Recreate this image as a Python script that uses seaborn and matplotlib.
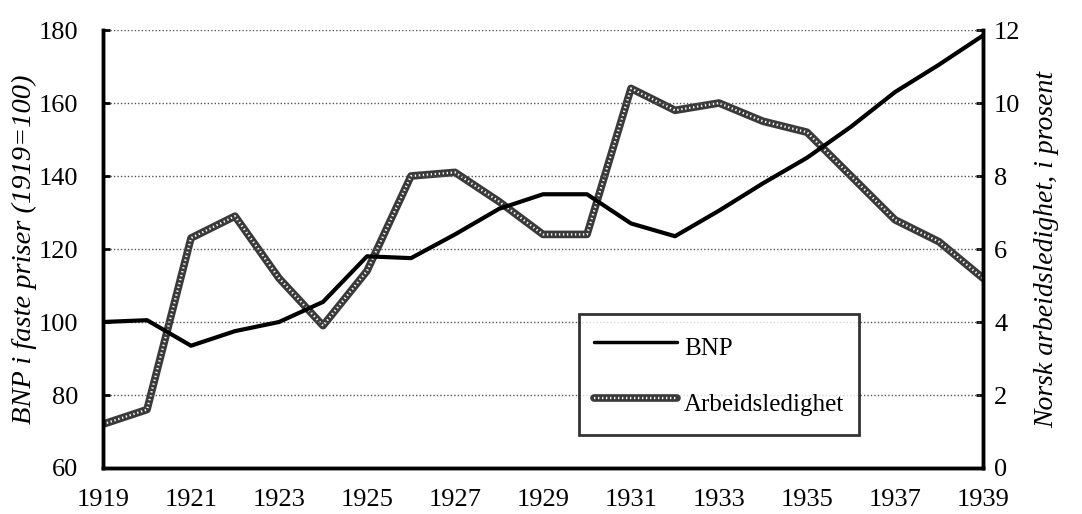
import matplotlib
matplotlib.use("Agg")
import matplotlib.pyplot as plt
import pandas as pd
import seaborn as sns

years = list(range(1919, 1940))
bnp = [100, 100.5, 93.5, 97.5, 100, 105.5, 118, 117.5, 124, 131, 135,
       135, 127, 123.5, 130.5, 138, 145, 153.5, 163, 170.5, 178.5]
arbeidsledighet = [1.2, 1.6, 6.3, 6.9, 5.2, 3.9, 5.4, 8.0, 8.1, 7.3, 6.4,
                   6.4, 10.4, 9.8, 10.0, 9.5, 9.2, 8.0, 6.8, 6.2, 5.2]
xticks = list(range(1919, 1940, 2))

df = pd.DataFrame({"year": years, "BNP": bnp, "Arbeidsledighet": arbeidsledighet})

sns.set_style("white")
plt.rcParams["font.family"] = ["Liberation Serif", "DejaVu Serif"]
for k in ("text.color", "axes.labelcolor", "xtick.color", "ytick.color"):
    plt.rcParams[k] = "black"

fig = plt.figure(figsize=(10.82, 5.14), dpi=100)
ax = fig.add_axes([0.0952, 0.0895, 0.8133, 0.8521])
ax2 = ax.twinx()

# grid on the left scale
for v in range(80, 181, 20):
    ax.axhline(v, color="#555555", lw=1.0, ls=(0, (1, 1.5)), zorder=0)

sns.lineplot(data=df, x="year", y="BNP", ax=ax, color="black", lw=3, zorder=3)
# hatched grey line: thick dark base + white dots on top
sns.lineplot(data=df, x="year", y="Arbeidsledighet", ax=ax2, color="#3a3a3a", lw=5.5, zorder=2)
sns.lineplot(data=df, x="year", y="Arbeidsledighet", ax=ax2, color="white", lw=1.6,
             ls=(0, (0.6, 1.2)), zorder=3)

ax.set_xlim(1919, 1939)
ax.set_ylim(60, 180)
ax2.set_ylim(0, 12)
ax.set_xticks(range(1919, 1940))
ax.set_xticklabels([str(y) if y in xticks else "" for y in range(1919, 1940)])
ax.set_yticks(range(60, 181, 20))
ax2.set_yticks(range(0, 13, 2))

for a in (ax, ax2):
    a.spines["top"].set_visible(False)
    for s in ("left", "right", "bottom"):
        a.spines[s].set_linewidth(2.5)
        a.spines[s].set_color("black")
    a.tick_params(direction="in", length=5, width=2, labelsize=19, pad=8)
ax.tick_params(axis="x", pad=15)
ax.tick_params(axis="y", pad=18)

ax.set_xlabel("")
ax.set_ylabel("BNP i faste priser (1919=100)", fontsize=20.5, style="italic", labelpad=1)
ax2.set_ylabel("Norsk arbeidsledighet, i prosent", fontsize=20, style="italic", labelpad=10)
ax.set_zorder(ax2.get_zorder() + 1)
ax.patch.set_visible(False)

h_bnp = plt.Line2D([], [], color="black", lw=2.5)
h_base = plt.Line2D([], [], color="#3a3a3a", lw=5.5)
h_dots = plt.Line2D([], [], color="white", lw=1.6, ls=(0, (0.6, 1.2)))
leg = ax.legend([h_bnp, (h_base, h_dots)], ["BNP", "Arbeidsledighet"],
                loc="lower left", bbox_to_anchor=(0.541, 0.075), fontsize=18,
                frameon=True, fancybox=False, handlelength=3.3, handleheight=1.8,
                handletextpad=0.3, labelspacing=0.8, borderpad=0.6, borderaxespad=0)
leg.get_frame().set_edgecolor("black")
leg.get_frame().set_linewidth(2)

fig.savefig("out.png", dpi=100)
